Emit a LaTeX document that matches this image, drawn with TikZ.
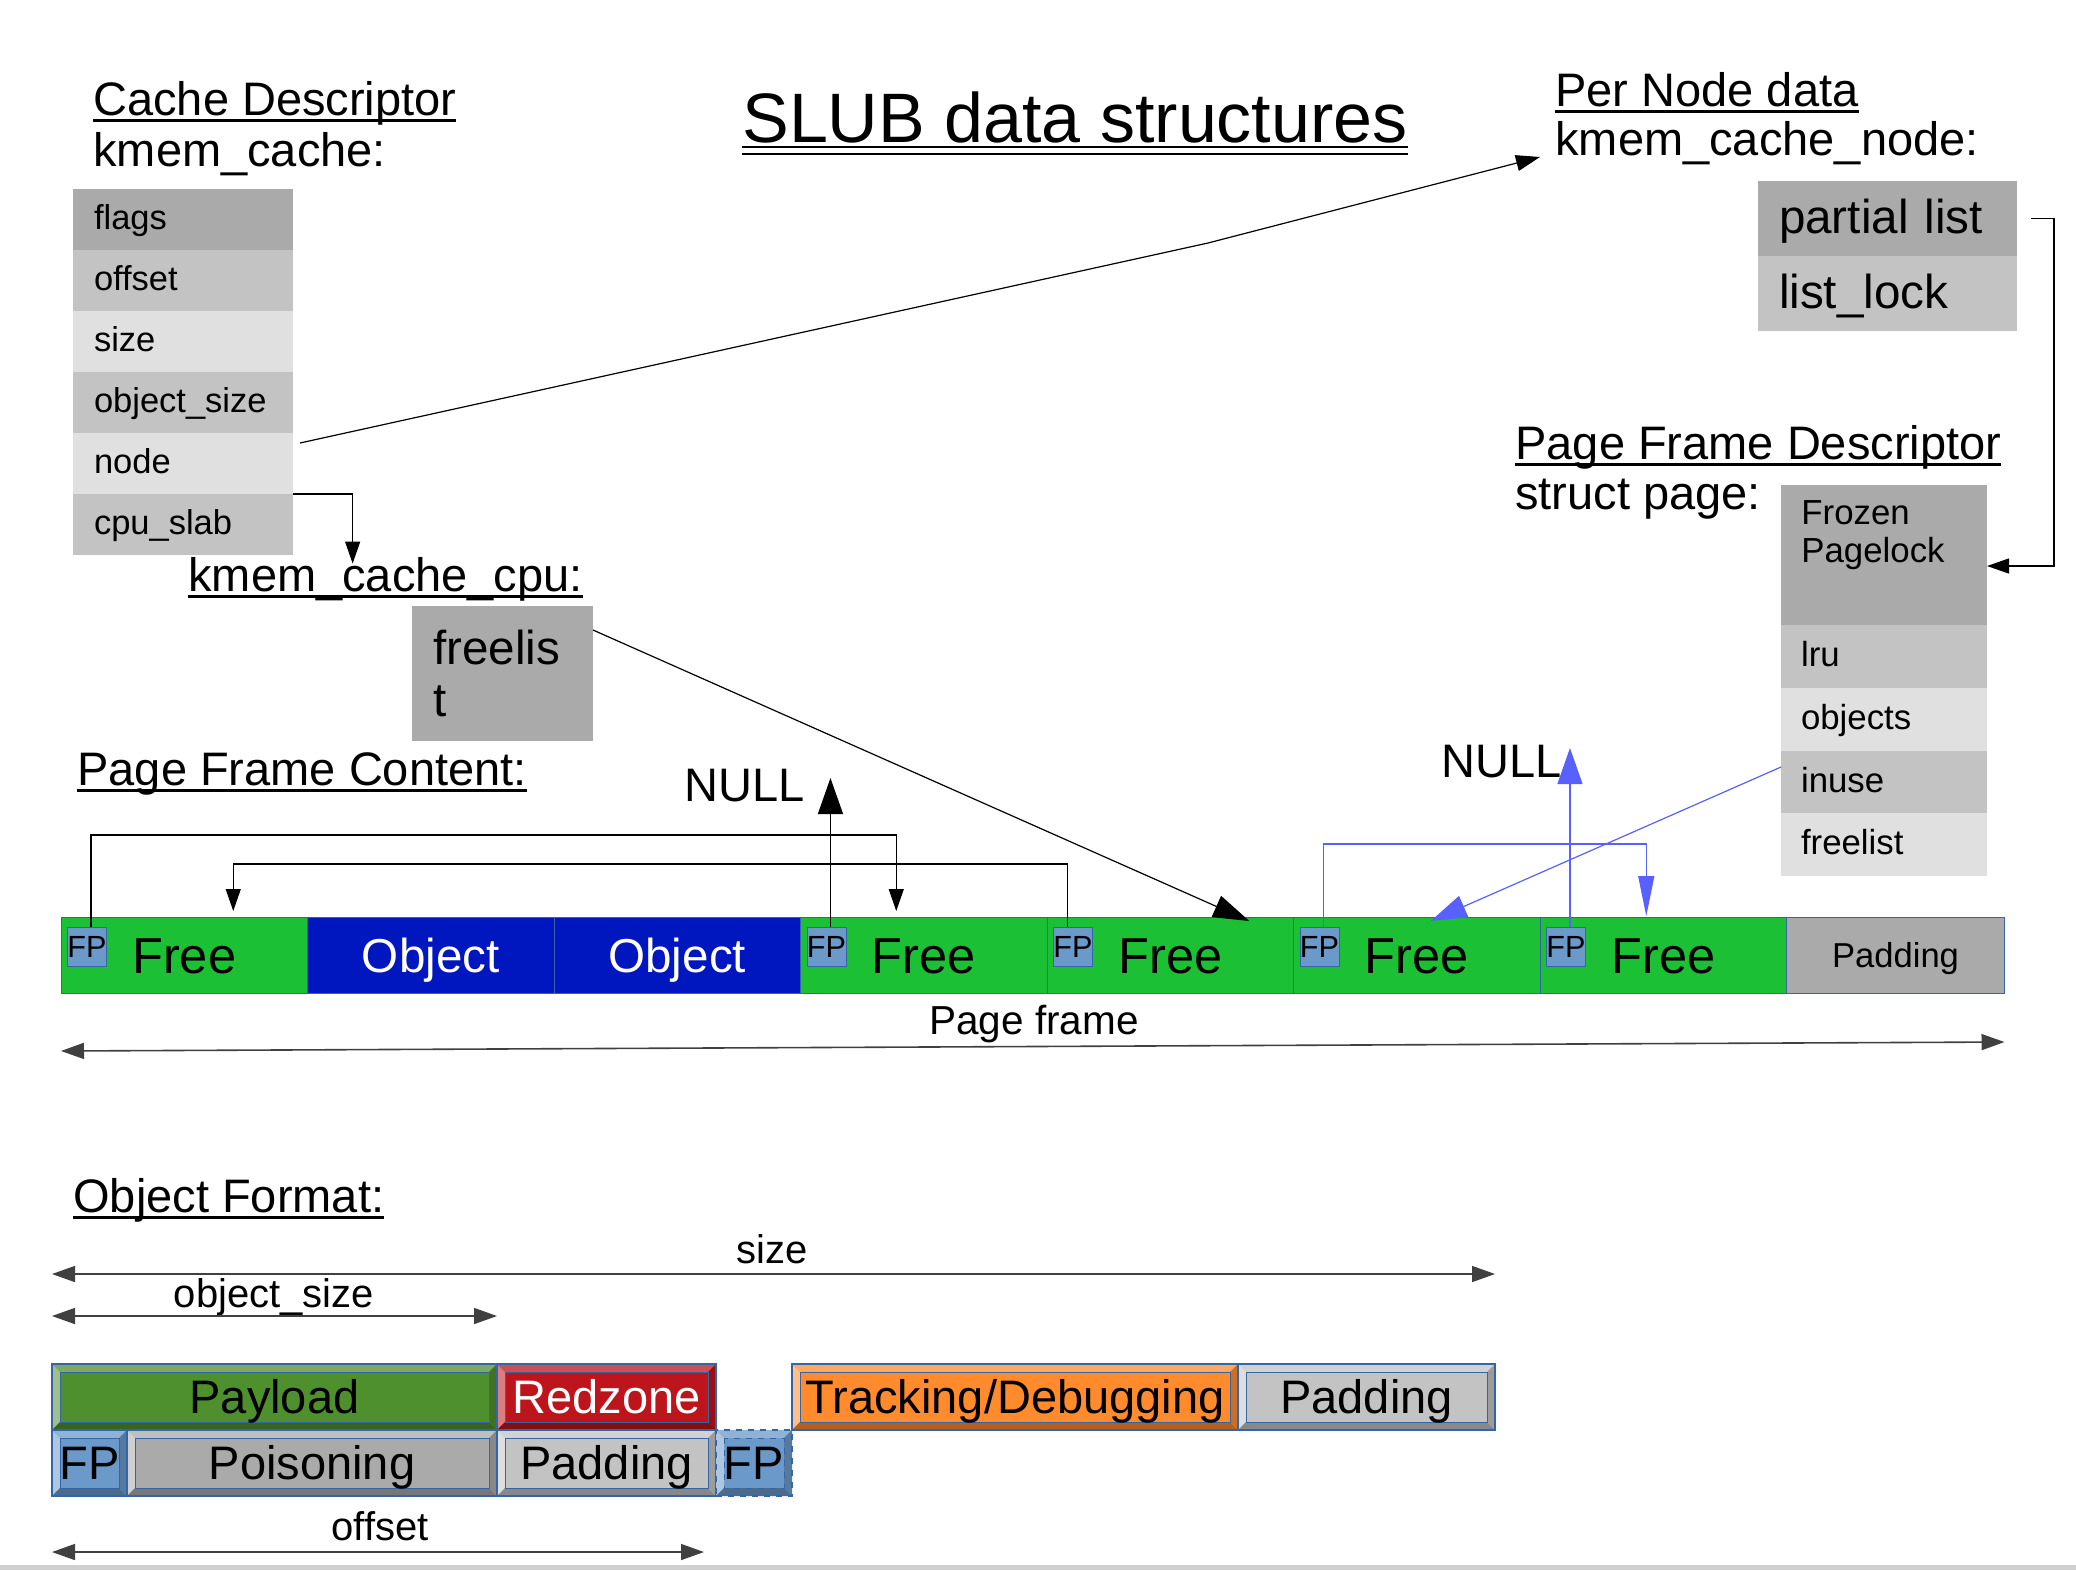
\documentclass[tikz,border=0pt]{standalone}
\usepackage{fontspec}
\setmainfont{Liberation Sans}
\usetikzlibrary{positioning,arrows.meta}

\newcommand{\uln}[1]{\setbox0\hbox{#1}\rlap{\rule[-3.5pt]{\wd0}{1.5pt}}\box0}
\newcommand{\dblul}[1]{\setbox0\hbox{#1}\rlap{\rule[-3pt]{\wd0}{1pt}}\rlap{\rule[-6.5pt]{\wd0}{1pt}}\box0}

\definecolor{gdark}{RGB}{170,170,170}
\definecolor{gmid}{RGB}{195,195,195}
\definecolor{glight}{RGB}{224,224,224}
\definecolor{freegreen}{RGB}{27,192,52}
\definecolor{objblue}{RGB}{0,22,190}
\definecolor{fpblue}{RGB}{106,153,202}
\definecolor{edgeblue}{RGB}{52,101,164}
\definecolor{ptrblue}{RGB}{88,96,255}
\definecolor{paygreen}{RGB}{78,143,46}
\definecolor{redz}{RGB}{190,20,27}
\definecolor{trackor}{RGB}{255,139,45}
\definecolor{stripgray}{RGB}{208,208,212}

\tikzset{
  head/.style={anchor=base west, inner sep=0pt, font=\fontsize{23.5}{26}\selectfont},
  kfield/.style={text width=89pt, inner xsep=10.5pt, inner ysep=0pt, outer sep=0pt, minimum height=30.5pt,
    align=left, text height=12.5pt, text depth=2.5pt, font=\fontsize{17.25}{19}\selectfont},
  nfield/.style={kfield, text width=108.5pt, minimum height=37.5pt, text height=17.5pt, text depth=3pt,
    font=\fontsize{23.8}{26}\selectfont},
  pfield/.style={kfield, text width=83pt, inner xsep=10pt, minimum height=31.4pt, font=\fontsize{17.4}{19}\selectfont},
  cell/.style={draw=edgeblue, line width=0.5pt, minimum width=123.25pt, minimum height=38pt, inner sep=0pt, outer sep=0pt},
  free/.style={cell, fill=freegreen, font=\fontsize{25.3}{28}\selectfont, text height=18.1pt, text depth=0pt},
  obj/.style={cell, fill=objblue, text=white, font=\fontsize{23.8}{26}\selectfont, text height=17pt, text depth=0pt},
  fp/.style={fill=fpblue, draw=edgeblue, line width=0.4pt, minimum size=19.5pt, inner sep=0pt, anchor=north west,
    font=\fontsize{15.3}{16}\selectfont},
  bevel/.style={fill=#1, draw=edgeblue, line width=0.6pt, inner sep=0pt, outer sep=0pt, minimum height=33pt,
    font=\fontsize{23.5}{26}\selectfont, text height=16.8pt, text depth=0pt,
    path picture={
      \coordinate (pnw) at (path picture bounding box.north west);
      \coordinate (pne) at (path picture bounding box.north east);
      \coordinate (psw) at (path picture bounding box.south west);
      \coordinate (pse) at (path picture bounding box.south east);
      \fill[#1!75!white] (pnw) -- (pne) -- ([shift={(-4pt,-4pt)}]pne) -- ([shift={(4pt,-4pt)}]pnw) -- cycle;
      \fill[#1!55!white] (pnw) -- (psw) -- ([shift={(4pt,4pt)}]psw) -- ([shift={(4pt,-4pt)}]pnw) -- cycle;
      \fill[#1!70!black] (psw) -- (pse) -- ([shift={(-4pt,4pt)}]pse) -- ([shift={(4pt,4pt)}]psw) -- cycle;
      \fill[#1!80!black] (pne) -- (pse) -- ([shift={(-4pt,4pt)}]pse) -- ([shift={(-4pt,-4pt)}]pne) -- cycle;
      \draw[edgeblue, line width=0.4pt] ([shift={(4pt,-4pt)}]pnw) rectangle ([shift={(-4pt,4pt)}]pse);
    }},
  ptr/.style={line width=0.6pt, -{Triangle[length=11pt,width=7.5pt]}},
  nullptr/.style={line width=0.6pt, -{Triangle[length=18pt,width=12.5pt]}},
  fatptr/.style={line width=0.6pt, -{Triangle[length=18pt,width=11.5pt]}},
  dimarr/.style={line width=0.8pt, black!75, {Triangle[length=11.5pt,width=8pt]}-{Triangle[length=11.5pt,width=8pt]}},
  dimlab/.style={anchor=base, inner sep=0pt, font=\fontsize{20}{22}\selectfont}
}

\begin{document}
\begin{tikzpicture}[x=0.5pt, y=-0.5pt]
    \useasboundingbox (0,0) rectangle (2076,1570);
    \fill[stripgray] (0,1565) rectangle (2076,1570);

    % titles
    \node[anchor=base, inner sep=0pt, font=\fontsize{35}{40}\selectfont] (title) at (1075,142) {\dblul{SLUB data structures}};
    \node[head] (cdesc) at (93,115) {\uln{Cache Descriptor}};
    \node[head] (kcache) at (93,166) {kmem\_cache:};
    \node[head] (pnd) at (1555,106) {\uln{Per Node data}};
    \node[head] (kcnode) at (1555,155) {kmem\_cache\_node:};
    \node[head] (pfd) at (1515,459) {\uln{Page Frame Descriptor}};
    \node[head] (spage) at (1515,509) {struct page:};
    \node[head] (kcc) at (188,591) {\uln{kmem\_cache\_cpu:}};
    \node[head] (pfc) at (77,785) {\uln{Page Frame Content:}};
    \node[head] (null1) at (684,801) {NULL};
    \node[head] (null2) at (1441,777) {NULL};
    \node[head] (ofmt) at (73,1212) {\uln{Object Format:}};

    % kmem_cache
    \node[kfield, fill=gdark, anchor=north west] (flags) at (73,189) {flags};
    \node[kfield, fill=gmid, below=0pt of flags] (offset) {offset};
    \node[kfield, fill=glight, below=0pt of offset] (size) {size};
    \node[kfield, fill=gmid, below=0pt of size] (objsize) {object\_size};
    \node[kfield, fill=glight, below=0pt of objsize] (nodef) {node};
    \node[kfield, fill=gmid, below=0pt of nodef] (cpuslab) {cpu\_slab};

    % kmem_cache_cpu
    \node[text width=69.5pt, inner xsep=10.5pt, inner ysep=0pt, outer sep=0pt, align=left, minimum height=67.5pt,
      font=\fontsize{23.8}{26}\selectfont, fill=gdark, anchor=north west] (kfree) at (412,606) {freelis\\t};

    % kmem_cache_node
    \node[nfield, fill=gdark, anchor=north west] (partial) at (1758,181) {partial list};
    \node[nfield, fill=gmid, below=0pt of partial] (listlock) {list\_lock};

    % struct page
    \node[pfield, fill=gdark, minimum height=70pt, anchor=north west] (frozen) at (1781,485) {};
    \node[anchor=north west, inner sep=0pt, align=left, font=\fontsize{17.4}{19}\selectfont] (frozentxt) at ([xshift=10pt,yshift=-7.5pt]frozen.north west) {Frozen\\Pagelock};
    \node[pfield, fill=gmid, below=0pt of frozen] (lru) {lru};
    \node[pfield, fill=glight, below=0pt of lru] (objects) {objects};
    \node[pfield, fill=gmid, below=0pt of objects] (inuse) {inuse};
    \node[pfield, fill=glight, below=0pt of inuse] (pfree) {freelist};

    % page frame
    \node[free, anchor=north west] (free1) at (61,917) {Free};
    \node[obj, right=0pt of free1] (obj2) {Object};
    \node[obj, right=0pt of obj2] (obj3) {Object};
    \node[free, right=0pt of obj3] (free4) {Free};
    \node[free, right=0pt of free4] (free5) {Free};
    \node[free, right=0pt of free5] (free6) {Free};
    \node[free, right=0pt of free6] (free7) {Free};
    \node[cell, fill=gdark, minimum width=109pt, font=\fontsize{17.3}{19}\selectfont, text height=12.4pt, text depth=0pt, right=0pt of free7] (pad) {Padding};
    \node[fp] (fp1) at ([xshift=3pt,yshift=-5pt]free1.north west) {FP};
    \node[fp] (fp4) at ([xshift=3pt,yshift=-5pt]free4.north west) {FP};
    \node[fp] (fp5) at ([xshift=3pt,yshift=-5pt]free5.north west) {FP};
    \node[fp] (fp6) at ([xshift=3pt,yshift=-5pt]free6.north west) {FP};
    \node[fp] (fp7) at ([xshift=3pt,yshift=-5pt]free7.north west) {FP};
    \node[dimlab, font=\fontsize{20.25}{22}\selectfont] (pflab) at (1034,1034) {Page frame};
    \draw[dimarr] ([yshift=-29pt]free1.south west) -- ([yshift=-24.5pt]pad.south east);

    % pointers
    \draw[ptr] (cpuslab.north east) -| ([xshift=-16.5pt,yshift=-3.5pt]kcc.north);
    \draw[line width=0.6pt, -{Triangle[length=12pt,width=8pt]}] ([xshift=3.5pt,yshift=-5pt]nodef.north east) -- (1208,243) -- ([xshift=-7.5pt,yshift=-1pt]kcnode.base west);
    \draw[ptr] ([xshift=7pt]partial.east) -- ++(23,0) |- ([yshift=-5.5pt]frozen.east);
    \draw[fatptr] ([yshift=-12pt]kfree.north east) -- ([xshift=39.5pt,yshift=-2pt]free5.north);
    \draw[ptr] ([xshift=2pt]fp1.north) -- ++(0,-92) -| ([xshift=-13.75pt,yshift=3pt]free4.north);
    \draw[ptr] ([xshift=-2.75pt]fp5.north) -- ++(0,-63) -| ([xshift=24.5pt,yshift=3pt]free1.north);
    \draw[nullptr] ([xshift=2pt]fp4.north) -- ++(0,-149);
    \draw[ptrblue, line width=0.6pt, -{Triangle[length=20pt,width=8pt]}] ([xshift=2pt]fp6.north) -- ++(0,-83) -| ([xshift=-8.5pt,yshift=0.5pt]free7.north);
    \draw[ptrblue, nullptr] ([xshift=2pt]fp7.north) -- ++(0,-179);
    \draw[ptrblue, fatptr] ([yshift=7.5pt]inuse.west) -- ([xshift=7pt,yshift=-2pt]free6.north);

    % object format
    \node[bevel=paygreen, minimum width=222.5pt, anchor=north west] (payload) at (52,1364) {Payload};
    \node[bevel=redz, text=white, minimum width=109.5pt, right=0pt of payload] (redzone) {Redzone};
    \node[bevel=fpblue, minimum width=37.5pt, anchor=north west] (fpa) at (payload.south west) {FP};
    \node[bevel=gdark, minimum width=185pt, right=0pt of fpa] (poison) {Poisoning};
    \node[bevel=gmid, minimum width=109.5pt, right=0pt of poison] (padb) {Padding};
    \node[bevel=fpblue, dashed, minimum width=38pt, right=0pt of padb] (fpb) {FP};
    \node[bevel=trackor, minimum width=223pt, anchor=south west] (tracking) at (fpb.north east) {Tracking/Debugging};
    \node[bevel=gmid, minimum width=128.5pt, right=0pt of tracking] (opad) {Padding};

    \node[dimlab] (lsize) at (772,1263) {size};
    \draw[dimarr] ([yshift=45pt]payload.north west) -- ([yshift=45pt]opad.north east);
    \node[dimlab] (lobjsize) at (274,1307) {object\_size};
    \draw[dimarr] ([yshift=24pt]payload.north west) -- ([yshift=24pt]payload.north east);
    \node[dimlab] (loffset) at (380,1540) {offset};
    \draw[dimarr] ([yshift=-28pt]fpa.south west) -- ([xshift=-6pt,yshift=-28pt]padb.south east);
\end{tikzpicture}
\end{document}
